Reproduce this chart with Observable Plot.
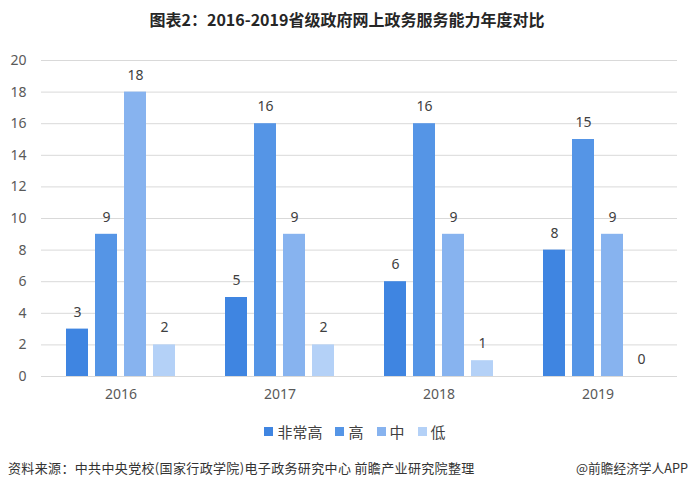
<!DOCTYPE html>
<html><head><meta charset="utf-8">
<script src="https://cdn.jsdelivr.net/npm/d3@7"></script>
<script src="https://cdn.jsdelivr.net/npm/@observablehq/plot@0.6"></script>
<style>
body{margin:0;background:#fff;font-family:"Noto Sans CJK SC","Noto Sans",sans-serif;}
#wrap{position:relative;width:694px;height:490px;overflow:hidden;background:#fff;}
#title{position:absolute;top:7px;left:0;width:694px;text-align:center;font-weight:bold;font-size:16px;color:#262626;}
#chart{position:absolute;top:40px;left:0;}
#legend{position:absolute;top:421px;left:8px;width:694px;display:flex;justify-content:center;align-items:center;gap:13px;font-size:15px;color:#404040;}
#legend .it{display:flex;align-items:center;gap:4px;}
#legend .sw{width:9px;height:9px;display:inline-block;}
#src{position:absolute;top:458px;left:8px;font-size:13px;letter-spacing:0.35px;color:#333;}
#app{position:absolute;top:458px;right:6px;font-size:12.7px;color:#333;}
</style></head>
<body>
<div id="wrap">
<div id="title">图表2：2016-2019省级政府网上政务服务能力年度对比</div>
<div id="chart"></div>
<div id="legend"></div>
<div id="src">资料来源：中共中央党校(国家行政学院)电子政务研究中心 前瞻产业研究院整理</div>
<div id="app">@前瞻经济学人APP</div>
</div>
<script>
const years = ["2016", "2017", "2018", "2019"];
const levels = ["非常高", "高", "中", "低"];
const veryHigh = [3, 5, 6, 8];
const high = [9, 16, 16, 15];
const mid = [18, 9, 9, 9];
const low = [2, 2, 1, 0];
const yTicks = [0, 2, 4, 6, 8, 10, 12, 14, 16, 18, 20];
const colors = ["#3f85e1", "#5595e6", "#87b3ef", "#b4d1f7"];

const series = [veryHigh, high, mid, low];
const data = [];
years.forEach((yr, i) => levels.forEach((lv, j) => data.push({year: yr, level: lv, value: series[j][i]})));

const chart = Plot.plot({
  width: 694,
  height: 370,
  marginTop: 20,
  marginBottom: 34,
  marginLeft: 40,
  marginRight: 17,
  style: {fontFamily: '"Noto Sans","Noto Sans CJK SC",sans-serif', fontSize: "14px", color: "#595959", background: "#fff"},
  fx: {domain: years, padding: 0, label: null, axis: null},
  x: {domain: levels, paddingInner: 0.24, paddingOuter: 0.84, axis: null},
  y: {domain: [0, 20], ticks: yTicks, label: null, tickSize: 0, tickPadding: 15},
  color: {domain: levels, range: colors},
  marks: [
    Plot.gridY(yTicks, {stroke: "#d9d9d9", strokeOpacity: 1}),
    Plot.barY(data, {fx: "year", x: "level", y: "value", fill: "level"}),
    Plot.text(data, {fx: "year", x: "level", y: "value", text: d => String(d.value), dy: -17, fill: "#404040", fontSize: 14}),
    Plot.axisFx({anchor: "bottom", tickSize: 0, tickPadding: 13, fontSize: 14, fill: "#595959", label: null})
  ]
});
document.getElementById("chart").appendChild(chart);

const leg = document.getElementById("legend");
levels.forEach((lv, j) => {
  const it = document.createElement("span");
  it.className = "it";
  it.innerHTML = `<span class="sw" style="background:${colors[j]}"></span><span>${lv}</span>`;
  leg.appendChild(it);
});
</script>
</body></html>
